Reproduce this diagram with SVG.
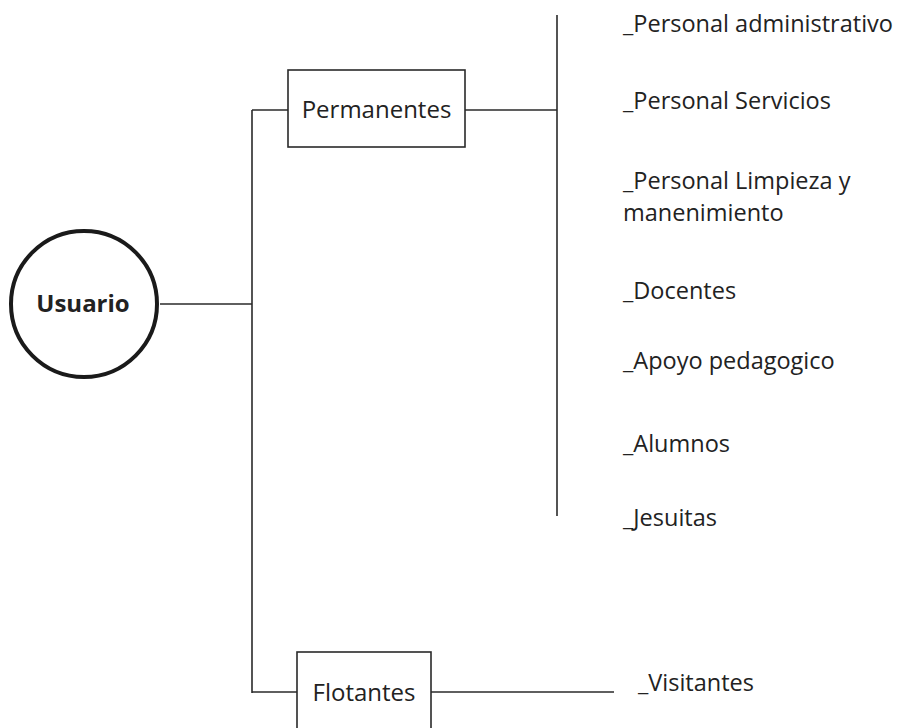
<svg xmlns="http://www.w3.org/2000/svg" width="907" height="728" viewBox="0 0 907 728">
<style>
.t{font-family:"Open Sans","Noto Sans","DejaVu Sans",sans-serif;font-size:23.5px;fill:#222}
.n{font-size:24px}
.b{font-weight:bold}
.ln{stroke:#2a2a2a;stroke-width:1.6;fill:none}
.box{stroke:#2a2a2a;stroke-width:1.6;fill:#fff}
</style>
<rect width="907" height="728" fill="#fff"/>
<g id="connectors">
<line class="ln" x1="160" y1="304" x2="252" y2="304"/>
<line class="ln" x1="252" y1="110" x2="252" y2="693"/>
<line class="ln" x1="252" y1="110" x2="288" y2="110"/>
<line class="ln" x1="465" y1="110" x2="557" y2="110"/>
<line class="ln" x1="557" y1="15" x2="557" y2="516"/>
<line class="ln" x1="252" y1="692" x2="297" y2="692"/>
<line class="ln" x1="431" y1="692" x2="614" y2="692"/>
</g>
<g id="usuario">
<circle cx="84" cy="304" r="73" fill="#fff" stroke="#1a1a1a" stroke-width="4"/>
<text class="t n b" x="83" y="312" text-anchor="middle">Usuario</text>
</g>
<g id="permanentes">
<rect class="box" x="288" y="70" width="177" height="77"/>
<text class="t n" x="376.5" y="118" text-anchor="middle">Permanentes</text>
</g>
<g id="flotantes">
<rect class="box" x="297" y="652" width="134" height="90"/>
<text class="t n" x="364" y="701" text-anchor="middle">Flotantes</text>
</g>
<g id="items">
<text class="t" x="623" y="32">_Personal administrativo</text>
<text class="t" x="623" y="109">_Personal Servicios</text>
<text class="t" x="623" y="189">_Personal Limpieza y</text>
<text class="t" x="623" y="221">manenimiento</text>
<text class="t" x="623" y="299">_Docentes</text>
<text class="t" x="623" y="369">_Apoyo pedagogico</text>
<text class="t" x="623" y="452">_Alumnos</text>
<text class="t" x="623" y="526">_Jesuitas</text>
<text class="t" x="638" y="691">_Visitantes</text>
</g>
</svg>
